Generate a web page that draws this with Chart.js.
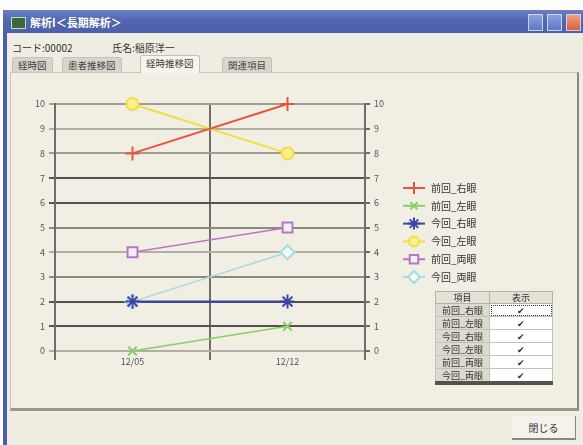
<!DOCTYPE html>
<html>
<head>
<meta charset="utf-8">
<script src="https://cdn.jsdelivr.net/npm/chart.js@4/dist/chart.umd.min.js"></script>
<style>
  body { margin: 0; width: 583px; height: 445px; overflow: hidden; background: #fff; position: relative;
         font-family: "Noto Sans CJK JP", "Noto Sans", sans-serif; font-size: 10px; color: #333; }
  .abs { position: absolute; }
  #win { left: 3px; top: 10px; width: 580px; height: 435px; background: #efece2; border-left: 4px solid #4b60aa; box-sizing: border-box; }
  #titlebar { left: 3px; top: 10px; width: 580px; height: 23px; background: linear-gradient(#6a7fc4, #5066b0 45%, #4c61a8); }
  #title { left: 30px; top: 15px; color: #fff; font-weight: bold; font-size: 11px; line-height: 14px; }
  #icon { left: 11px; top: 17px; width: 13px; height: 10px; background: #3d6a3a; border: 1px solid #c8d8c0; }
  .tbtn { top: 14px; width: 15px; height: 17px; background: linear-gradient(#8aa0e0, #5f78c8); border: 1px solid #c9d4f0; box-sizing: border-box; }
  #close { background: linear-gradient(#f0a080, #d8603c); }
  #info1 { left: 12px; top: 40px; }
  #info2 { left: 112px; top: 40px; }
  .tab { top: 57px; height: 14px; line-height: 14px; padding: 0 5px; background: #d8d5cb; border: 1px solid #c4c1b6; border-bottom: none; border-radius: 3px 3px 0 0; font-size: 9.5px; color: #444; }
  .tab.on { background: #f6f4ec; top: 55px; height: 17px; }
  #panel { left: 10px; top: 72px; width: 569px; height: 339px; border: 1px solid #c8c5ba; border-right: 2px solid #8a877e; border-bottom: 3px solid #9a978e; box-sizing: border-box; background: #f1eee4; }
  #chartBox { left: 10px; top: 80px; width: 570px; height: 300px; }
  table { position: absolute; left: 435px; top: 291px; width: 118px; border-collapse: collapse; font-size: 9px; line-height: 11px; border-bottom: 4px solid #55534e; }
  th { background: #e4e1d7; font-weight: normal; border: 1px solid #b4b1a6; height: 11px; padding: 0; }
  td { border: 1px solid #c4c1b6; height: 12px; padding: 0; text-align: center; }
  td.item { background: #dcd9cf; width: 53px; }
  td.chk { background: #fff; }
  td.focus { outline: 1px dotted #333; outline-offset: -2px; }
  #btnClose { left: 512px; top: 416px; width: 64px; height: 24px; line-height: 24px; text-align: center; background: #f4f2ea; border-right: 1px solid #8a877e; border-bottom: 2px solid #8a877e; box-sizing: border-box; }
</style>
</head>
<body>
<div id="win" class="abs"></div>
<div id="titlebar" class="abs"></div>
<div id="icon" class="abs"></div>
<div id="title" class="abs">解析I＜長期解析＞</div>
<div class="abs tbtn" style="left:528px"></div>
<div class="abs tbtn" style="left:547px"></div>
<div id="close" class="abs tbtn" style="left:566px"></div>
<div id="info1" class="abs">コード:00002</div>
<div id="info2" class="abs">氏名:稲原洋一</div>
<div id="panel" class="abs"></div>
<div class="abs tab" style="left:12px">経時図</div>
<div class="abs tab" style="left:62px">患者推移図</div>
<div class="abs tab on" style="left:140px">経時推移図</div>
<div class="abs tab" style="left:222px">関連項目</div>
<div id="chartBox" class="abs"><canvas id="trendChart" width="570" height="300"></canvas></div>
<table id="itemTable"></table>
<div id="btnClose" class="abs">閉じる</div>

<script>
// 測定日と各項目の値
const dates = ["12/05", "12/12"];
const labels = ["前回_右眼", "前回_左眼", "今回_右眼", "今回_左眼", "前回_両眼", "今回_両眼"];
const prevRight = [8, 10];
const prevLeft = [0, 1];
const currRight = [2, 2];
const currLeft = [10, 8];
const prevBoth = [4, 5];
const currBoth = [2, 4];
const yTicks = [0, 1, 2, 3, 4, 5, 6, 7, 8, 9, 10];

// grid line shades per y value (0..10)
const gridShades = ["#b3afa5", "#55534e", "#55534e", "#8c8981", "#b3afa5", "#8c8981",
                    "#55534e", "#55534e", "#a09d94", "#b3afa5", "#a09d94"];

const FONT = "'Noto Sans CJK JP', 'Noto Sans', sans-serif";

function series(i, data, color, style, radius, fill, width) {
    return {
        label: labels[i],
        data: data,
        borderColor: color,
        backgroundColor: fill,
        pointBackgroundColor: fill,
        pointBorderColor: color,
        pointStyle: style,
        pointRadius: radius,
        pointBorderWidth: 2,
        borderWidth: width,
        tension: 0,
        clip: false,
        yAxisID: "y"
    };
}

// legend drawn at the right with a line through each marker
const sideLegend = {
    id: "sideLegend",
    afterDraw(chart) {
        const ctx = chart.ctx;
        const x0 = 393, y0 = 108, step = 17.8;
        chart.data.datasets.forEach((ds, i) => {
            const y = y0 + i * step;
            ctx.save();
            ctx.strokeStyle = ds.borderColor;
            ctx.lineWidth = 2;
            ctx.beginPath();
            ctx.moveTo(x0, y);
            ctx.lineTo(x0 + 22, y);
            ctx.stroke();
            ctx.fillStyle = ds.pointBackgroundColor;
            Chart.helpers.drawPoint(ctx, {
                pointStyle: ds.pointStyle, radius: ds.pointRadius - 1,
                borderWidth: 2, rotation: 0
            }, x0 + 11, y);
            ctx.fillStyle = "#333";
            ctx.font = "10px " + FONT;
            ctx.textBaseline = "middle";
            ctx.fillText(ds.label, x0 + 28, y);
            ctx.restore();
        });
    }
};

new Chart(document.getElementById("trendChart"), {
    type: "line",
    data: {
        labels: dates,
        datasets: [
            series(0, prevRight, "#e8553f", "cross", 7, "#e8553f", 2),
            series(1, prevLeft, "#86cf68", "crossRot", 6, "#86cf68", 1.5),
            series(2, currRight, "#3c44a6", "star", 7, "#3c44a6", 2),
            series(3, currLeft, "#f2df3c", "circle", 6, "#f8ef90", 2),
            series(4, prevBoth, "#b678c6", "rect", 7, "#f4eef4", 1.5),
            series(5, currBoth, "#a6dbe0", "rectRot", 7, "#f4fafa", 1.5)
        ]
    },
    options: {
        responsive: false,
        animation: false,
        layout: { padding: { top: 24, right: 185, bottom: 0, left: 0 } },
        plugins: {
            legend: { display: false },
            tooltip: { enabled: false }
        },
        scales: {
            x: {
                offset: true,
                grid: { offset: true, color: "#6f6d68", lineWidth: 2, tickLength: 9 },
                border: { display: false },
                ticks: { color: "#555", font: { family: FONT, size: 9 }, padding: -4 },
                afterFit: s => { s.height = 29; }
            },
            y: {
                position: "left",
                min: 0, max: 10,
                afterBuildTicks: s => { s.ticks = yTicks.map(v => ({ value: v })); },
                grid: {
                    color: c => gridShades[c.index] || "#8c8981",
                    lineWidth: 2, tickLength: 6
                },
                border: { color: "#6f6d68", width: 2 },
                ticks: { color: "#555", font: { family: FONT, size: 9 }, padding: 4 },
                afterFit: s => { s.width = 45; }
            },
            y2: {
                position: "right",
                min: 0, max: 10,
                afterBuildTicks: s => { s.ticks = yTicks.map(v => ({ value: v })); },
                grid: { drawOnChartArea: false, color: "#6f6d68", lineWidth: 2, tickLength: 5 },
                border: { color: "#6f6d68", width: 2 },
                ticks: { color: "#555", font: { family: FONT, size: 9 }, padding: 4 },
                afterFit: s => { s.width = 30; }
            }
        }
    },
    plugins: [sideLegend]
});

// 表示項目の一覧
const table = document.getElementById("itemTable");
let html = "<tr><th>項目</th><th>表示</th></tr>";
labels.forEach((name, i) => {
    html += "<tr><td class='item'>" + name + "</td><td class='chk" + (i === 0 ? " focus" : "") + "'>✔</td></tr>";
});
table.innerHTML = html;
</script>
</body>
</html>
